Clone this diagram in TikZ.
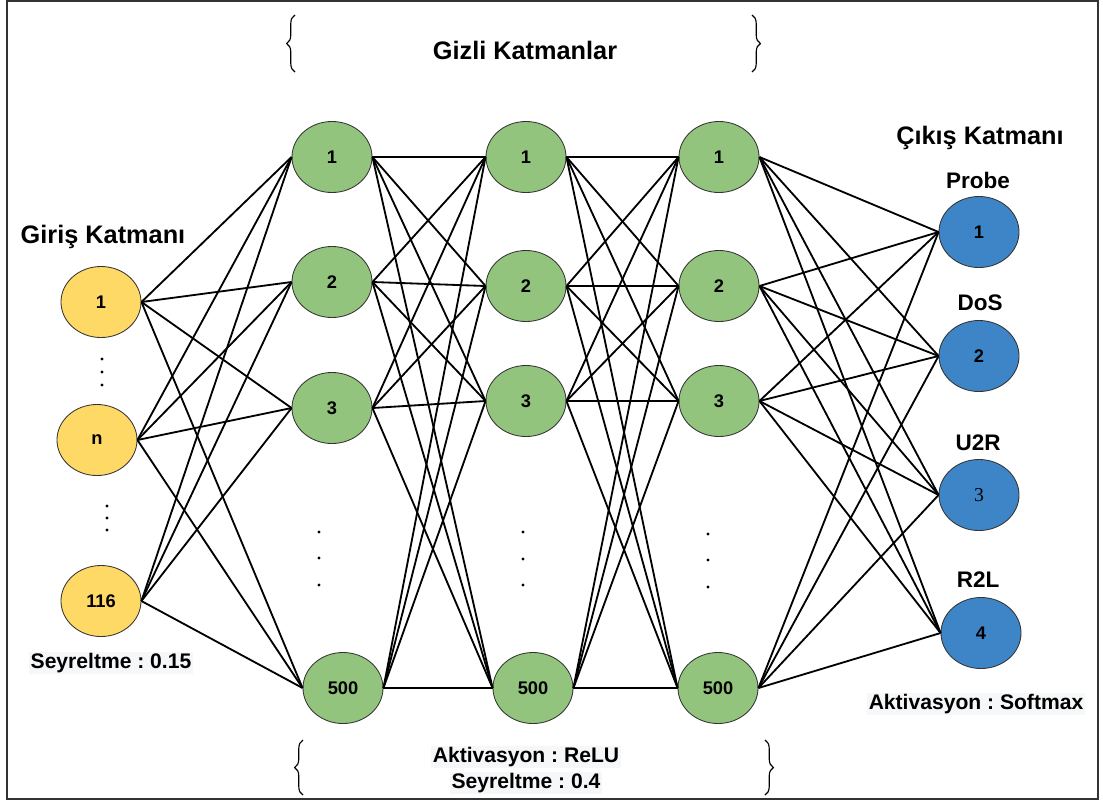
\documentclass[tikz,border=0pt]{standalone}
\usepackage{fontspec}
\setmainfont{Liberation Sans}
\newfontfamily\serifnum{Liberation Serif}
\usepackage{tikz}
\usetikzlibrary{shapes.geometric,decorations.pathreplacing,calc}
\definecolor{girisyellow}{HTML}{FFD966}
\definecolor{gizligreen}{HTML}{93C47D}
\definecolor{cikisblue}{HTML}{3D85C6}
\definecolor{kenar}{HTML}{333333}
\definecolor{vurgu}{HTML}{F6F7F8}
\frenchspacing

\begin{document}
\begin{tikzpicture}[x=0.025cm,y=-0.025cm,
    noron/.style={ellipse, draw=kenar, line width=0.6pt, inner sep=0pt,
                  minimum width=2cm, minimum height=1.775cm,
                  font=\fontsize{13}{15}\selectfont\bfseries},
    giris/.style={noron, fill=girisyellow},
    gizli/.style={noron, fill=gizligreen},
    cikis/.style={noron, fill=cikisblue},
    baslik/.style={font=\fontsize{18}{21}\selectfont\bfseries},
    etiket/.style={font=\fontsize{16}{19}\selectfont\bfseries},
    notlar/.style={font=\fontsize{15}{18}\selectfont\bfseries, fill=vurgu, inner sep=1pt},
    kenarcizgi/.style={line width=1.3pt},
    parantez/.style={decorate, decoration={brace, amplitude=6pt}, line width=0.8pt}]
  \useasboundingbox (0,0) rectangle (1103,805);
  \draw[kenar, line width=1.5pt] (7,1) rectangle (1098,799);

  % giris katmani
  \node[giris] (gir1) at (101,302) {1};
  \node[giris] (girn) at (97,440) {n};
  \node[giris] (gir116) at (101,601) {116};

  % gizli katmanlar
  \node[gizli] (ha1) at (332,157) {1};
  \node[gizli] (ha2) at (332,282) {2};
  \node[gizli] (ha3) at (332,408) {3};
  \node[gizli] (ha500) at (343,688) {500};
  \node[gizli] (hb1) at (526,157) {1};
  \node[gizli] (hb2) at (526,286) {2};
  \node[gizli] (hb3) at (526,401) {3};
  \node[gizli] (hb500) at (533,688) {500};
  \node[gizli] (hc1) at (719,157) {1};
  \node[gizli] (hc2) at (719,286) {2};
  \node[gizli] (hc3) at (719,401) {3};
  \node[gizli] (hc500) at (718,688) {500};

  % cikis katmani
  \node[cikis] (cik1) at (979,232) {1};
  \node[cikis] (cik2) at (979,356) {2};
  \node[cikis] (cik3) at (979,495) {\serifnum\mdseries\fontsize{14}{16}\selectfont 3};
  \node[cikis] (cik4) at (981,633) {4};

  % baglantilar
  \foreach \s in {gir1,girn,gir116}
    \foreach \t in {ha1,ha2,ha3,ha500}
      \draw[kenarcizgi] (\s.east) -- (\t.west);
  \foreach \s in {ha1,ha2,ha3,ha500}
    \foreach \t in {hb1,hb2,hb3,hb500}
      \draw[kenarcizgi] (\s.east) -- (\t.west);
  \foreach \s in {hb1,hb2,hb3,hb500}
    \foreach \t in {hc1,hc2,hc3,hc500}
      \draw[kenarcizgi] (\s.east) -- (\t.west);
  \foreach \s in {hc1,hc2,hc3,hc500}
    \foreach \t in {cik1,cik2,cik3,cik4}
      \draw[kenarcizgi] (\s.east) -- (\t.west);

  % noktalar
  \foreach \x/\y in {102/359,102/372,102/385,107/506,107/518,107/530,
                     319/532,319/558,319/585,523/532,523/559,523/585,
                     708/534,708/560,708/587}
    \fill (\x,\y) circle (1.7);

  % yazilar
  \node[baslik] (girisbaslik) at (103,237) {Giriş Katmanı};
  \node[notlar] (girisnot) at (111,663) {Seyreltme : 0.15};
  \node[baslik] (gizlibaslik) at (525,50) {Gizli Katmanlar};
  \node[baslik] (cikisbaslik) at (980,138) {Çıkış Katmanı};
  \node[etiket] (probe) at (978,180) {Probe};
  \node[etiket] (dos) at (980,303) {DoS};
  \node[etiket] (utor) at (978,443) {U2R};
  \node[etiket] (rtol) at (978,580) {R2L};
  \node[notlar] (cikisnot) at (976,704) {Aktivasyon : Softmax};
  \node[notlar] (gizlinot1) at (526,757) {Aktivasyon : ReLU};
  \node[notlar] (gizlinot2) at (526,783) {Seyreltme : 0.4};

  % parantezler
  \draw[parantez] (295,72) -- (295,15);
  \draw[parantez] (752,15) -- (752,72);
  \draw[parantez] (303,795) -- (303,740);
  \draw[parantez] (765,740) -- (765,795);
\end{tikzpicture}
\end{document}
